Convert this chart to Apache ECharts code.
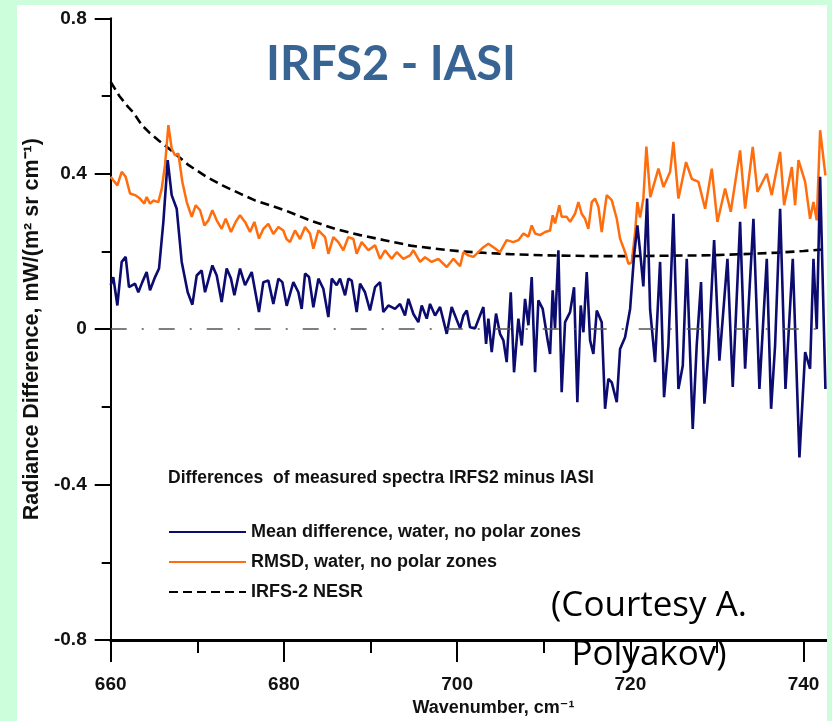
<!DOCTYPE html>
<html>
<head>
<meta charset="utf-8">
<script src="https://cdn.jsdelivr.net/npm/echarts@6/dist/echarts.min.js"></script>
<style>
  html, body { margin: 0; padding: 0; background: #ccfedb; }
  #chart { position: absolute; left: 17px; top: 5px; width: 810px; height: 716px; background: #fff; }
</style>
</head>
<body>
<div id="chart"></div>
<script>
// Mean difference (blue), wavenumber / value pairs
const meanWn = [660.0, 660.3, 660.77, 661.27, 661.73, 662.11, 662.81, 663.19, 663.65, 664.15, 664.54, 665.12, 665.58, 666.08, 666.58, 667.04, 667.62, 668.2, 668.89, 669.43, 669.93, 670.5, 670.89, 671.74, 672.24, 672.81, 673.39, 673.89, 674.28, 674.93, 675.51, 676.28, 677.12, 677.62, 678.2, 678.78, 679.36, 679.82, 680.32, 681.09, 681.67, 682.05, 682.44, 682.9, 683.4, 683.98, 684.55, 685.13, 685.52, 686.09, 686.48, 687.06, 687.44, 687.83, 688.4, 688.79, 689.36, 689.94, 690.52, 691.1, 691.48, 692.06, 692.83, 693.41, 693.98, 694.37, 694.95, 695.52, 695.91, 696.49, 696.87, 697.45, 698.03, 698.8, 699.37, 700.34, 700.72, 701.11, 701.49, 702.07, 702.64, 703.03, 703.34, 703.61, 703.99, 704.49, 704.95, 705.34, 705.72, 706.19, 706.57, 707.07, 707.46, 707.84, 708.23, 708.61, 709.0, 709.38, 709.88, 710.15, 710.42, 710.73, 711.03, 711.3, 711.69, 712.07, 712.46, 713.04, 713.5, 713.88, 714.27, 714.58, 714.96, 715.35, 715.73, 716.12, 716.69, 717.08, 717.46, 717.85, 718.43, 718.81, 719.39, 719.97, 720.43, 720.81, 721.12, 721.5, 721.93, 722.28, 722.85, 723.43, 723.89, 724.39, 724.97, 725.55, 726.05, 726.51, 727.2, 727.66, 728.16, 728.55, 729.01, 729.67, 730.28, 731.21, 731.82, 732.67, 733.25, 734.21, 734.9, 735.75, 736.25, 736.71, 737.29, 737.91, 738.75, 739.52, 740.18, 740.75, 741.14, 741.52, 741.91, 742.52];
const meanVal = [0.113, 0.134, 0.061, 0.173, 0.186, 0.108, 0.117, 0.095, 0.121, 0.147, 0.10, 0.134, 0.156, 0.276, 0.435, 0.345, 0.31, 0.173, 0.095, 0.063, 0.138, 0.151, 0.095, 0.164, 0.138, 0.07, 0.156, 0.13, 0.087, 0.156, 0.113, 0.147, 0.044, 0.121, 0.125, 0.065, 0.13, 0.121, 0.06, 0.121, 0.095, 0.052, 0.143, 0.134, 0.056, 0.13, 0.104, 0.031, 0.13, 0.113, 0.13, 0.087, 0.13, 0.125, 0.044, 0.117, 0.095, 0.048, 0.108, 0.121, 0.044, 0.061, 0.052, 0.065, 0.035, 0.078, 0.039, 0.018, 0.061, 0.027, 0.065, 0.035, 0.057, -0.012, 0.057, 0.002, 0.035, 0.048, 0.005, 0.002, 0.035, 0.057, -0.038, 0.027, -0.059, 0.04, -0.012, -0.029, -0.085, 0.095, -0.111, 0.027, -0.042, 0.078, 0.01, 0.134, -0.111, 0.074, 0.052, 0.014, -0.025, -0.064, 0.10, 0.002, 0.203, -0.162, 0.018, 0.044, 0.108, -0.188, 0.061, -0.008, 0.147, -0.029, -0.064, 0.048, 0.018, -0.205, -0.128, -0.137, -0.188, -0.051, -0.021, 0.052, 0.19, 0.267, 0.2, 0.11, 0.336, 0.05, -0.085, 0.173, -0.175, -0.042, 0.297, -0.154, -0.094, 0.181, -0.257, -0.042, 0.121, -0.192, -0.059, 0.229, -0.081, 0.181, -0.149, 0.276, -0.102, 0.284, -0.154, 0.181, -0.205, -0.042, 0.31, -0.154, 0.181, -0.33, -0.059, -0.102, 0.181, 0.0, 0.392, -0.154];

// RMSD (orange)
const rmsdWn = [660.0, 660.3, 660.77, 661.27, 661.73, 662.23, 662.81, 663.38, 663.88, 664.15, 664.54, 664.92, 665.5, 665.89, 666.27, 666.66, 667.04, 667.43, 667.81, 668.28, 668.78, 669.35, 669.82, 670.32, 670.82, 671.28, 671.74, 672.24, 672.81, 673.28, 673.89, 674.43, 674.93, 675.51, 676.09, 676.59, 677.12, 677.62, 678.2, 678.78, 679.36, 679.93, 680.3, 680.7, 681.28, 681.86, 682.44, 683.01, 683.4, 683.98, 684.75, 685.13, 685.71, 686.28, 686.86, 687.44, 688.02, 688.4, 688.98, 689.75, 690.52, 691.1, 691.67, 692.44, 693.02, 693.79, 694.56, 694.95, 695.72, 696.29, 697.06, 697.83, 698.8, 699.57, 700.34, 700.72, 701.3, 701.88, 702.45, 703.03, 703.61, 704.19, 704.95, 705.72, 706.49, 707.07, 707.65, 708.23, 708.61, 709.0, 709.57, 710.15, 710.73, 711.03, 711.3, 711.8, 712.07, 712.65, 713.04, 713.61, 714.0, 714.38, 714.77, 715.15, 715.54, 715.92, 716.31, 716.69, 717.27, 717.85, 718.43, 718.81, 719.39, 719.78, 720.16, 720.55, 720.81, 721.12, 721.5, 721.85, 722.3, 723.24, 723.82, 724.59, 724.97, 725.55, 726.43, 727.09, 727.86, 728.63, 729.4, 730.05, 730.94, 731.59, 732.67, 733.25, 734.13, 734.67, 735.75, 736.32, 737.29, 737.75, 738.64, 739.02, 739.41, 740.18, 740.75, 741.14, 741.52, 741.91, 742.52];
const rmsdVal = [0.392, 0.383, 0.37, 0.405, 0.392, 0.349, 0.345, 0.336, 0.323, 0.34, 0.323, 0.331, 0.327, 0.361, 0.422, 0.525, 0.465, 0.447, 0.452, 0.378, 0.327, 0.289, 0.319, 0.306, 0.267, 0.28, 0.306, 0.28, 0.258, 0.284, 0.25, 0.276, 0.293, 0.276, 0.25, 0.276, 0.233, 0.258, 0.271, 0.245, 0.263, 0.254, 0.232, 0.224, 0.254, 0.232, 0.263, 0.246, 0.207, 0.254, 0.237, 0.194, 0.237, 0.224, 0.203, 0.237, 0.232, 0.194, 0.224, 0.203, 0.216, 0.181, 0.203, 0.181, 0.198, 0.181, 0.19, 0.203, 0.173, 0.185, 0.173, 0.181, 0.16, 0.181, 0.162, 0.198, 0.19, 0.186, 0.198, 0.211, 0.22, 0.211, 0.198, 0.229, 0.224, 0.229, 0.246, 0.238, 0.267, 0.246, 0.242, 0.25, 0.254, 0.293, 0.272, 0.319, 0.289, 0.289, 0.276, 0.297, 0.327, 0.297, 0.284, 0.258, 0.327, 0.336, 0.315, 0.25, 0.345, 0.332, 0.284, 0.233, 0.198, 0.168, 0.172, 0.25, 0.327, 0.287, 0.336, 0.47, 0.34, 0.413, 0.366, 0.405, 0.482, 0.336, 0.43, 0.387, 0.379, 0.31, 0.413, 0.276, 0.362, 0.302, 0.46, 0.31, 0.469, 0.353, 0.40, 0.345, 0.456, 0.319, 0.417, 0.319, 0.435, 0.379, 0.284, 0.327, 0.28, 0.512, 0.396];

// IRFS-2 NESR (black dashed)
const nesrWn = [660.0, 661.0, 662.0, 662.6, 663.6, 664.5, 665.5, 667.0, 669.0, 671.0, 672.9, 675.0, 676.6, 678.5, 680.1, 683.0, 685.9, 688.8, 691.6, 694.6, 697.5, 700.5, 703.5, 706.1, 710.0, 715.7, 720.0, 724.0, 729.2, 733.0, 737.0, 740.0, 742.7];
const nesrVal = [0.636, 0.60, 0.572, 0.558, 0.525, 0.505, 0.486, 0.46, 0.422, 0.393, 0.37, 0.348, 0.332, 0.318, 0.306, 0.28, 0.258, 0.242, 0.229, 0.215, 0.207, 0.200, 0.196, 0.193, 0.19, 0.188, 0.188, 0.189, 0.19, 0.193, 0.197, 0.201, 0.206];

const xTicks = [660, 680, 700, 720, 740];
const yTicks = [-0.8, -0.4, 0, 0.4, 0.8];

// no narrow face here, so a slightly smaller bold sans stands in for Arial Narrow
const narrow = "'Liberation Sans Narrow', 'Liberation Sans', 'DejaVu Sans', sans-serif";
const narrowWeight = "bold condensed";

function pairs(xs, ys) {
  return xs.map((x, i) => [x, ys[i]]);
}

const chart = echarts.init(document.getElementById("chart"));
chart.setOption({
  animation: false,
  backgroundColor: "#fff",
  title: [
    {
      text: "IRFS2 - IASI",
      left: 374, top: 36, padding: 0, textAlign: "center",
      textStyle: { fontFamily: "Lato", fontWeight: "bold", fontSize: 47, color: "#386493" },
    },
    {
      text: "Differences  of measured spectra IRFS2 minus IASI",
      left: 151, top: 464, padding: 0,
      textStyle: { fontFamily: narrow, fontWeight: narrowWeight, fontSize: 17.5, color: "#111" },
    },
    {
      text: "(Courtesy A.\nPolyakov)",
      left: 632, top: 577, padding: 0, textAlign: "center",
      textStyle: { fontFamily: "'Open Sans'", fontWeight: "normal", fontSize: 35, lineHeight: 49, color: "#000" },
    },
  ],
  legend: {
    orient: "vertical",
    left: 151, top: 518, padding: 0,
    itemWidth: 77, itemHeight: 14, itemGap: 12,
    itemStyle: { opacity: 0 },
    data: ["Mean difference, water, no polar zones", "RMSD, water, no polar zones", "IRFS-2 NESR"],
    textStyle: { fontFamily: narrow, fontWeight: narrowWeight, fontSize: 18, color: "#111" },
  },
  grid: { left: 93.7, right: -63.2, top: 13.3, bottom: 81, outerBoundsMode: "none", containLabel: false },
  xAxis: {
    type: "value",
    min: 660, max: 750, interval: 20,
    name: "Wavenumber, cm\u207B\u00B9",
    nameLocation: "middle", nameGap: 58,
    nameTextStyle: { fontFamily: narrow, fontWeight: narrowWeight, fontSize: 18, color: "#111", padding: [0, 14, 0, 0] },
    axisLine: { show: true, onZero: false, lineStyle: { color: "#000", width: 3 } },
    axisTick: { show: true, length: 22, lineStyle: { color: "#000", width: 2 } },
    minorTick: { show: true, splitNumber: 2, length: 13, lineStyle: { color: "#000", width: 2 } },
    axisLabel: { margin: 35, fontFamily: narrow, fontWeight: narrowWeight, fontSize: 19, color: "#111",
      formatter: (v) => (xTicks.includes(v) ? String(v) : "") },
    splitLine: { show: false },
  },
  yAxis: {
    type: "value",
    min: -0.8, max: 0.8, interval: 0.4,
    name: "Radiance Difference, mW/(m\u00B2 sr cm\u207B\u00B9)",
    nameLocation: "middle", nameGap: 65,
    nameTextStyle: { fontFamily: "'Liberation Sans'", fontWeight: "bold", fontSize: 21.5, color: "#111" },
    axisLine: { show: true, onZero: false, lineStyle: { color: "#000", width: 2 } },
    axisTick: { show: true, length: 16, lineStyle: { color: "#000", width: 2 } },
    minorTick: { show: true, splitNumber: 2, length: 9, lineStyle: { color: "#000", width: 2 } },
    axisLabel: { margin: 24, fontFamily: narrow, fontWeight: narrowWeight, fontSize: 19, color: "#111",
      formatter: (v) => { const t = yTicks.find((k) => Math.abs(k - v) < 1e-9); return t === undefined ? "" : String(t); } },
    splitLine: { show: false },
  },
  series: [
    {
      name: "IRFS-2 NESR",
      type: "line",
      data: pairs(nesrWn, nesrVal),
      symbol: "none",
      lineStyle: { color: "#000", width: 2.6, type: [9, 5] },
      itemStyle: { color: "#000" },
      markLine: {
        silent: true,
        symbol: ["none", "none"],
        label: { show: false },
        lineStyle: { color: "#555", width: 1.5, type: [16, 15, 2, 15] },
        data: [{ yAxis: 0 }],
      },
    },
    {
      name: "RMSD, water, no polar zones",
      type: "line",
      data: pairs(rmsdWn, rmsdVal),
      symbol: "none",
      lineStyle: { color: "#ff6d0d", width: 2.5 },
      itemStyle: { color: "#ff6d0d" },
    },
    {
      name: "Mean difference, water, no polar zones",
      type: "line",
      data: pairs(meanWn, meanVal),
      symbol: "none",
      lineStyle: { color: "#0b0b70", width: 2.6 },
      itemStyle: { color: "#0b0b70" },
    },
  ],
});
</script>
</body>
</html>
